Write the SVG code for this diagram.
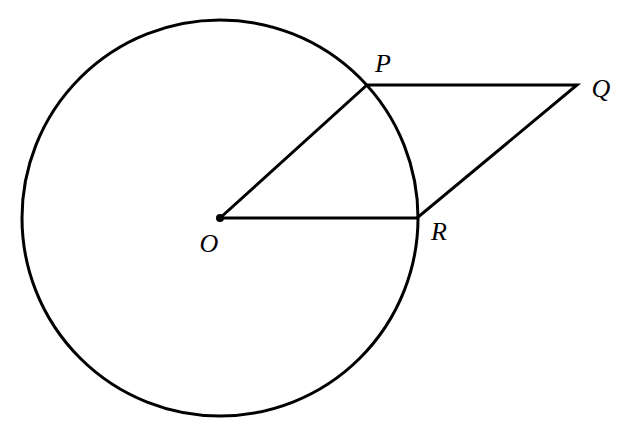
<svg xmlns="http://www.w3.org/2000/svg" width="625" height="430" viewBox="0 0 625 430">
<style>
.ln{stroke:#000;stroke-width:3;fill:none;stroke-linejoin:miter}
.lb{font-family:"Liberation Serif",serif;font-style:italic;font-size:26px;fill:#000;text-anchor:middle}
</style>
<rect width="625" height="430" fill="#fff"/>
<g id="circle"><circle class="ln" cx="220" cy="218" r="198" stroke-width="2.5"/></g>
<g id="connectors">
<polyline class="ln" points="220,218 367,85 577,85 417,218 220,218"/>
</g>
<g id="O"><circle cx="220" cy="218" r="4" fill="#000"/><text class="lb" x="209" y="252">O</text></g>
<g id="P"><text class="lb" x="383" y="72">P</text></g>
<g id="Q"><text class="lb" x="601" y="97">Q</text></g>
<g id="R"><text class="lb" x="439" y="240">R</text></g>
</svg>
